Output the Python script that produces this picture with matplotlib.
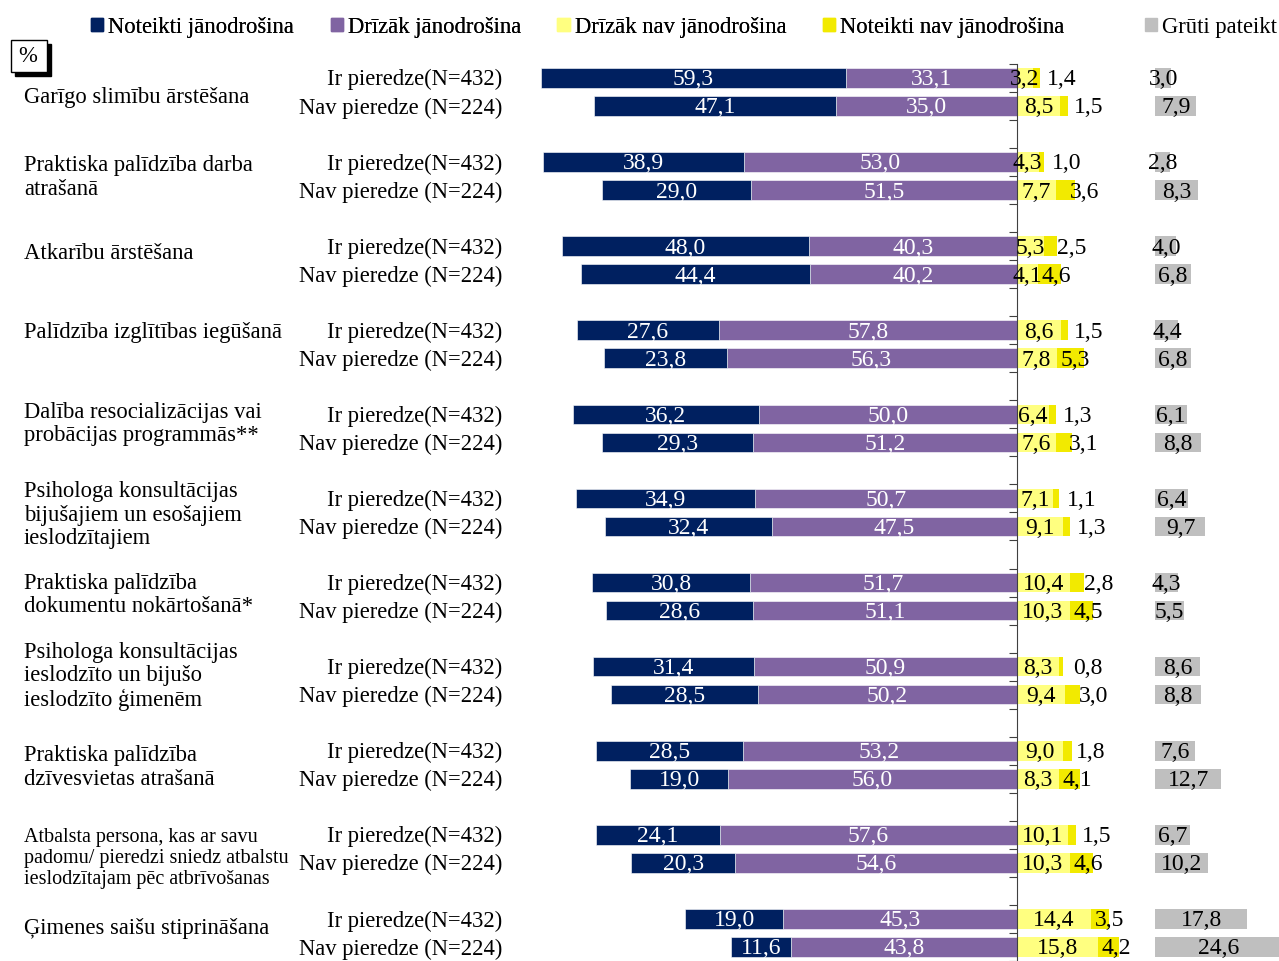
import matplotlib
matplotlib.use("Agg")
import matplotlib.pyplot as plt
import matplotlib.patches as mpatches
import matplotlib.transforms as mtransforms

plt.rcParams['font.family'] = ['Liberation Serif', 'DejaVu Serif']

categories = [
    "Garīgo slimību ārstēšana",
    "Praktiska palīdzība darba\natrašanā",
    "Atkarību ārstēšana",
    "Palīdzība izglītības iegūšanā",
    "Dalība resocializācijas vai\nprobācijas programmās**",
    "Psihologa konsultācijas\nbijušajiem un esošajiem\nieslodzītajiem",
    "Praktiska palīdzība\ndokumentu nokārtošanā*",
    "Psihologa konsultācijas\nieslodzīto un bijušo\nieslodzīto ģimenēm",
    "Praktiska palīdzība\ndzīvesvietas atrašanā",
    "Atbalsta persona, kas ar savu\npadomu/ pieredzi sniedz atbalstu\nieslodzītajam pēc atbrīvošanas",
    "Ģimenes saišu stiprināšana",
]
row_labels = ["Ir pieredze(N=432)", "Nav pieredze (N=224)"]
series = ["Noteikti jānodrošina", "Drīzāk jānodrošina", "Drīzāk nav jānodrošina",
          "Noteikti nav jānodrošina", "Grūti pateikt"]

# [Ir pieredze, Nav pieredze] per category
noteikti_ja = [[59.3, 47.1], [38.9, 29.0], [48.0, 44.4], [27.6, 23.8], [36.2, 29.3],
               [34.9, 32.4], [30.8, 28.6], [31.4, 28.5], [28.5, 19.0], [24.1, 20.3],
               [19.0, 11.6]]
drizak_ja = [[33.1, 35.0], [53.0, 51.5], [40.3, 40.2], [57.8, 56.3], [50.0, 51.2],
             [50.7, 47.5], [51.7, 51.1], [50.9, 50.2], [53.2, 56.0], [57.6, 54.6],
             [45.3, 43.8]]
drizak_nav = [[3.2, 8.5], [4.3, 7.7], [5.3, 4.1], [8.6, 7.8], [6.4, 7.6],
              [7.1, 9.1], [10.4, 10.3], [8.3, 9.4], [9.0, 8.3], [10.1, 10.3],
              [14.4, 15.8]]
noteikti_nav = [[1.4, 1.5], [1.0, 3.6], [2.5, 4.6], [1.5, 5.3], [1.3, 3.1],
                [1.1, 1.3], [2.8, 4.5], [0.8, 3.0], [1.8, 4.1], [1.5, 4.6],
                [3.5, 4.2]]
gruti = [[3.0, 7.9], [2.8, 8.3], [4.0, 6.8], [4.4, 6.8], [6.1, 8.8],
         [6.4, 9.7], [4.3, 5.5], [8.6, 8.8], [7.6, 12.7], [6.7, 10.2],
         [17.8, 24.6]]

colors = ["#002060", "#8064a2", "#ffff80", "#f2ea00", "#bfbfbf"]
GRAY_START = 27.0
FS = 16.3
NFS = 17
TY = 0.07  # small downward nudge for text

fig = plt.figure(figsize=(12.79, 9.61), dpi=100)
ax = fig.add_axes([0, 0, 1, 1 - 63.9 / 961])
ax.set_xlim(-1016.5 / 5.148, (1279 - 1016.5) / 5.148)
ax.set_ylim(31.31, -0.5)

blend = mtransforms.blended_transform_factory(ax.transAxes, ax.transData)
label_dy = [0.2, 0.05, -0.25, -0.42, -0.15, 0.1, -0.05, -0.15, 0.1, 0.35, -0.15]


def fmt(v):
    return f"{v:.1f}".replace(".", ",")


h = 0.7
for g in range(len(categories)):
    for j in range(2):
        y = 3 * g + j
        a = noteikti_ja[g][j]
        b = drizak_ja[g][j]
        c = drizak_nav[g][j]
        d = noteikti_nav[g][j]
        e = gruti[g][j]
        ax.barh(y, -b, height=h, color=colors[1], edgecolor="white", linewidth=0.4)
        ax.barh(y, -a, left=-b, height=h, color=colors[0], edgecolor="white", linewidth=0.4)
        ax.barh(y, c, height=h, color=colors[2], linewidth=0)
        ax.barh(y, d, left=c, height=h, color=colors[3], linewidth=0)
        ax.barh(y, e, left=GRAY_START, height=h, color=colors[4], linewidth=0)

        ty = y + TY
        ax.text(-b - a / 2, ty, fmt(a), ha="center", va="center", color="white", fontsize=NFS)
        ax.text(-b / 2, ty, fmt(b), ha="center", va="center", color="white", fontsize=NFS)
        ax.text(c / 2, ty, fmt(c), ha="center", va="center", color="black", fontsize=NFS)
        if d < 3.7 and c < 12:
            dx = c + 5.5
        else:
            dx = max(c + d / 2, c + 3.6)
        ax.text(dx, ty, fmt(d), ha="center", va="center", color="black", fontsize=NFS)
        ax.text(GRAY_START + e / 2, ty, fmt(e), ha="center", va="center", color="black", fontsize=NFS)

        ax.text(502 / 1279, ty, row_labels[j], transform=blend, ha="right", va="center",
                fontsize=FS)

    fs = 14.5 if g == 9 else FS
    ax.text(24 / 1279, 3 * g + 0.5 + label_dy[g], categories[g], transform=blend,
            ha="left", va="center", fontsize=fs, linespacing=1.15)

# axis line at zero with ticks between rows
for s in ["top", "right", "bottom"]:
    ax.spines[s].set_visible(False)
ax.spines["left"].set_position(("data", 0))
ax.spines["left"].set_color("#404040")
ax.set_yticks([k + 0.5 for k in range(-1, 32)])
ax.set_yticklabels([])
ax.tick_params(axis="y", direction="out", length=6, color="#404040")
ax.set_xticks([])

# legend
handles = [mpatches.Patch(color=colors[i], label=series[i]) for i in range(5)]
leg1 = fig.legend(handles=handles[:4], loc="center left", bbox_to_anchor=(91 / 1279, 1 - 27 / 961),
                  ncol=4, frameon=False, fontsize=FS, handlelength=0.55, handleheight=0.55,
                  handletextpad=0.22, columnspacing=1.6, borderpad=0, borderaxespad=0)
fig.legend(handles=handles[4:], loc="center left", bbox_to_anchor=(1145 / 1279, 1 - 27 / 961),
           frameon=False, fontsize=FS, handlelength=0.55, handleheight=0.55,
           handletextpad=0.22, borderpad=0, borderaxespad=0)
fig.add_artist(leg1)

# "%" box with shadow
fig.patches.append(mpatches.Rectangle((15 / 1279, 1 - 76 / 961), 36 / 1279, 32 / 961,
                                      transform=fig.transFigure, facecolor="black", edgecolor="black"))
fig.patches.append(mpatches.Rectangle((11 / 1279, 1 - 72 / 961), 36 / 1279, 32 / 961,
                                      transform=fig.transFigure, facecolor="white", edgecolor="black",
                                      linewidth=1))
fig.text(28 / 1279, 1 - 57 / 961, "%", ha="center", va="center", fontsize=FS)

fig.savefig("out.png", dpi=100)
